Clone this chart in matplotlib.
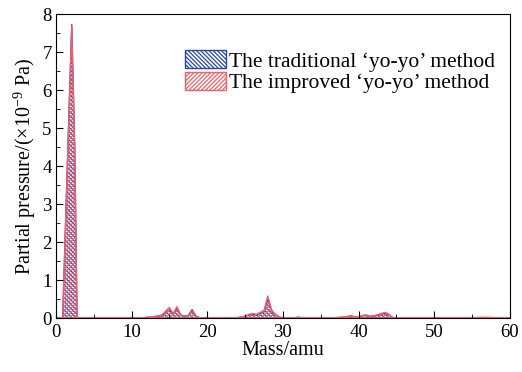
import matplotlib
matplotlib.use("Agg")
import matplotlib.pyplot as plt
from matplotlib.ticker import MultipleLocator

# mass axis (amu) and partial pressures (x1e-9 Pa)
mass = [0, 0.9, 1.5, 2.1, 2.5, 2.8, 3.0, 11.5, 12, 13, 13.5, 14, 14.5, 15, 15.5, 16,
        16.5, 17, 17.5, 18, 18.5, 19, 20, 24, 25, 25.5, 26, 26.5, 27, 27.5, 28, 28.5,
        29, 29.5, 30, 31.5, 32, 32.5, 36, 37, 38, 39, 39.5, 40, 40.5, 41, 41.5, 42,
        42.5, 43, 43.5, 44, 44.5, 45, 55, 56, 57, 58, 60]
traditional = [0, 0, 3.9, 7.72, 4.4, 0, 0, 0, 0.02, 0.03, 0.05, 0.06, 0.14, 0.22, 0.1, 0.24,
               0.07, 0.05, 0.07, 0.22, 0.05, 0.01, 0, 0.01, 0.04, 0.08, 0.1, 0.08, 0.13, 0.16, 0.5, 0.18,
               0.09, 0.03, 0, 0, 0.02, 0, 0, 0.01, 0.02, 0.06, 0.03, 0.02, 0.06, 0.07, 0.04, 0.05,
               0.07, 0.1, 0.12, 0.08, 0.01, 0, 0, 0, 0.01, 0, 0]
improved = [0, 0, 3.85, 7.68, 4.35, 0, 0, 0, 0.02, 0.04, 0.06, 0.08, 0.18, 0.28, 0.12, 0.3,
            0.08, 0.06, 0.06, 0.19, 0.04, 0.01, 0, 0.01, 0.05, 0.1, 0.12, 0.1, 0.15, 0.2, 0.58, 0.22,
            0.1, 0.03, 0, 0, 0.03, 0, 0, 0.01, 0.03, 0.05, 0.03, 0.03, 0.07, 0.08, 0.05, 0.06,
            0.09, 0.12, 0.15, 0.1, 0.01, 0, 0, 0.02, 0.02, 0.01, 0]

blue = "#2848a8"
red = "#f06068"

plt.rcParams["font.family"] = ["Liberation Serif", "DejaVu Serif"]
plt.rcParams["mathtext.fontset"] = "custom"
plt.rcParams["mathtext.rm"] = "Liberation Serif"
plt.rcParams["mathtext.it"] = "Liberation Serif:italic"
plt.rcParams["hatch.linewidth"] = 0.9

fig = plt.figure(figsize=(5.22, 3.72), dpi=100)
ax = fig.add_axes([0.107, 0.145, 0.87, 0.817])

ax.fill_between(mass, traditional, 0, facecolor="white", edgecolor=blue,
                hatch="\\\\\\\\\\\\\\\\", linewidth=1.0, label="The traditional \u2018yo-yo\u2019 method")
ax.fill_between(mass, improved, 0, facecolor="none", edgecolor=red,
                hatch="////////", linewidth=1.0, label="The improved \u2018yo-yo\u2019 method")

ax.set_xlim(0, 60)
ax.set_ylim(0, 8)
ax.xaxis.set_major_locator(MultipleLocator(10))
ax.xaxis.set_minor_locator(MultipleLocator(5))
ax.yaxis.set_major_locator(MultipleLocator(1))
ax.yaxis.set_minor_locator(MultipleLocator(0.5))
ax.tick_params(which="both", direction="in", top=False, right=False, labelsize=13.5)
ax.tick_params(which="major", length=5)
ax.tick_params(which="minor", length=3)
ax.tick_params(axis="x", which="major", pad=4)
ax.tick_params(axis="y", which="major", pad=3)
ax.set_xlabel("Mass/amu", fontsize=14.5, labelpad=0)
ax.set_ylabel("Partial pressure/(\u00d710$^{-9}$ Pa)", fontsize=14.5, labelpad=3)

ax.legend(loc="upper right", bbox_to_anchor=(1.0, 0.93), frameon=False, fontsize=15.5,
          handlelength=1.9, handleheight=0.9, handletextpad=0.15, labelspacing=0.0,
          borderaxespad=0.3)

fig.savefig("out.png", dpi=100)
